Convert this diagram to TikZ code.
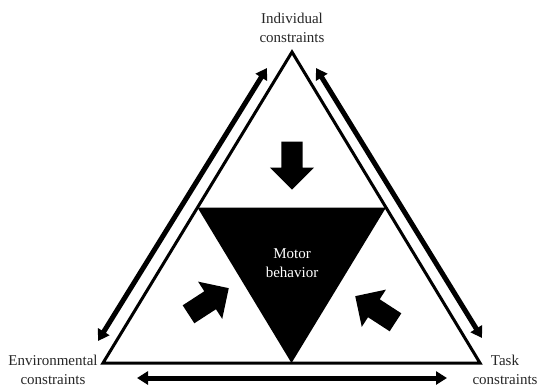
\documentclass[tikz,border=0pt]{standalone}
\usepackage{fontspec}
\setmainfont{Liberation Serif}
\usetikzlibrary{calc,shapes.arrows,arrows.meta,positioning}

\begin{document}
\begin{tikzpicture}[x=1pt, y=-1pt,
            label/.style={align=center, font=\fontsize{15}{19}\selectfont, text=black!85, inner sep=0pt},
            side/.style={line width=3pt, line join=miter},
            bigarrow/.style={{Triangle[length=11pt, width=13pt]}-{Triangle[length=11pt, width=13pt]}, line width=5pt},
            block/.style={single arrow, fill=black, inner xsep=0pt, inner ysep=10.5pt, single arrow head extend=11.5pt, minimum width=44pt, minimum height=48pt, anchor=tip}
        ]
            \useasboundingbox (0,0) rectangle (538,389);
            \coordinate (top) at (292,52);
            \coordinate (left) at (103,363);
            \coordinate (right) at (480,363);
            \coordinate (ml) at ($(top)!0.5!(left)$);
            \coordinate (mr) at ($(top)!0.5!(right)$);
            \coordinate (mb) at ($(left)!0.5!(right)$);

            \draw[side] (top) -- (left) -- (right) -- cycle;
            \fill[black] (ml) -- (mr) -- (mb) -- cycle;
            \node[label, text=white] (motor) at (292,263) {Motor\\behavior};

            \node[label] (indiv) at (292,28) {Individual\\constraints};
            \node[label] (env) at (53,370) {Environmental\\constraints};
            \node[label] (task) at (505,370) {Task\\constraints};

            % double arrows along the sides
            \coordinate (la) at (267,68);
            \coordinate (lb) at (98,341);
            \coordinate (ra) at (316,68);
            \coordinate (rb) at (482,338);
            \coordinate (ba) at (137,378);
            \coordinate (bb) at (447,378);
            \draw[bigarrow] (la) -- (lb);
            \draw[bigarrow] (ra) -- (rb);
            \draw[bigarrow] (ba) -- (bb);

            % block arrows pointing at the inner triangle
            \node[block, rotate=-90] (down) at (292,190) {};
            \node[block, rotate=33] (upright) at (229,288) {};
            \node[block, rotate=147] (upleft) at (355,296) {};
        \end{tikzpicture}
\end{document}
